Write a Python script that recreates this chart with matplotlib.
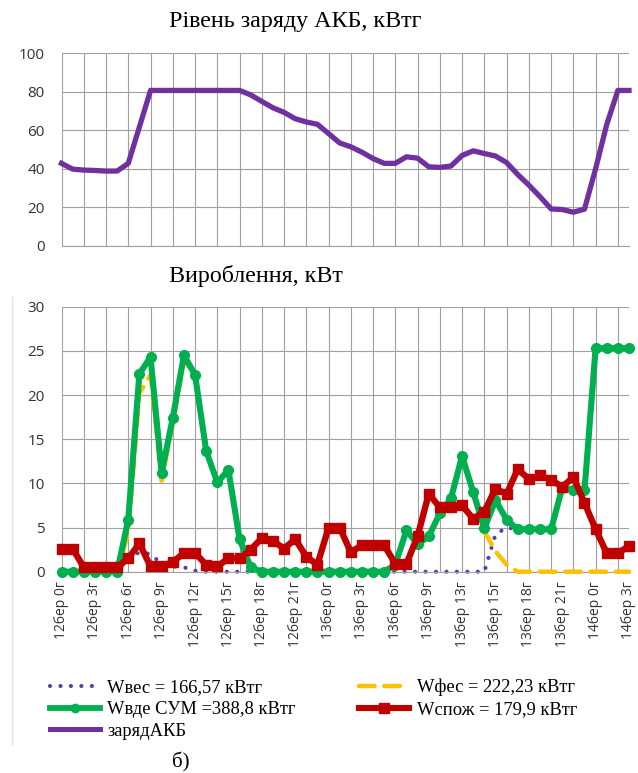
import numpy as np
import matplotlib
matplotlib.use("Agg")
import matplotlib.pyplot as plt
from matplotlib.lines import Line2D

W, H = 638, 773

# Battery state of charge, kWh, hourly from 12бер 0г to 14бер 3г
charge = [42.8, 39.8, 39.3, 39.1, 38.8, 38.8, 42.8, 61.7, 80.7, 80.7,
          80.7, 80.7, 80.7, 80.7, 80.7, 80.7, 80.7, 78.4, 75.0, 71.7,
          69.3, 66.0, 64.3, 63.1, 58.3, 53.4, 51.4, 48.6, 45.3, 42.8,
          42.8, 46.2, 45.5, 41.0, 40.7, 41.4, 46.9, 49.3, 47.9, 46.6,
          43.2, 37.0, 31.5, 25.5, 19.1, 18.8, 17.4, 19.0, 40.0, 63.0,
          80.7, 80.7]

# Generation and consumption, kW
wind = [0, 0, 0, 0, 0, 0, 1.5, 2.2, 2.0, 0.9,
        0.6, 0.5, 0.1, 0, 0, 0, 0, 0, 0, 0,
        0, 0, 0, 0, 0, 0, 0, 0, 0, 0,
        0, 0, 0, 0, 0, 0, 0, 0, 0, 4.2,
        5.0, 4.8, 4.8, 4.8, 4.8, 9.5, 9.3, 9.2, 25.3, 25.3,
        25.3, 25.3]
solar = [0, 0, 0, 0, 0, 0, 4.4, 20.2, 22.3, 10.3,
         16.8, 24.0, 22.2, 13.7, 10.1, 11.5, 3.7, 0.5, 0, 0,
         0, 0, 0, 0, 0, 0, 0, 0, 0, 0,
         0.8, 4.7, 3.1, 4.0, 6.6, 8.3, 13.1, 9.0, 4.6, 2.3,
         0.8, 0, 0, 0, 0, 0, 0, 0, 0, 0,
         0, 0]
total = [0, 0, 0, 0, 0, 0, 5.9, 22.4, 24.3, 11.2,
         17.4, 24.5, 22.3, 13.7, 10.1, 11.5, 3.7, 0.5, 0, 0,
         0, 0, 0, 0, 0, 0, 0, 0, 0, 0,
         0.8, 4.7, 3.1, 4.0, 6.6, 8.3, 13.1, 9.0, 4.9, 8.1,
         5.9, 4.8, 4.8, 4.8, 4.8, 9.5, 9.3, 9.2, 25.3, 25.3,
         25.3, 25.3]
load = [2.6, 2.6, 0.5, 0.5, 0.5, 0.5, 1.5, 3.2, 0.6, 0.6,
        1.1, 2.1, 2.1, 0.8, 0.6, 1.5, 1.5, 2.5, 3.8, 3.5,
        2.6, 3.7, 1.7, 0.8, 5.0, 5.0, 2.2, 3.0, 3.0, 3.0,
        0.9, 0.9, 4.0, 8.8, 7.3, 7.3, 7.5, 6.0, 6.8, 9.4,
        8.8, 11.6, 10.5, 10.9, 10.4, 9.6, 10.7, 7.8, 4.8, 2.1,
        2.1, 2.9]

tick_labels = ["12бер 0г", "12бер 3г", "12бер 6г", "12бер 9г", "12бер 12г",
               "12бер 15г", "12бер 18г", "12бер 21г", "13бер 0г", "13бер 3г",
               "13бер 6г", "13бер 9г", "13бер 13г", "13бер 15г", "13бер 18г",
               "13бер 21г", "14бер 0г", "14бер 3г"]
legend_labels = ["Wвес = 166,57 кВтг", "Wфес = 222,23 кВтг",
                 "Wвде СУМ =388,8 кВтг", "Wспож = 179,9 кВтг", "зарядАКБ"]

PURPLE = "#7030A0"
WIND_C = "#5B3DA8"
SOLAR_C = "#FFC000"
GREEN = "#00B050"
RED = "#C00000"
GRID = "#A0A0A0"
TEXT_C = "#333333"

plt.rcParams['font.family'] = ['Open Sans', 'DejaVu Sans']
serif = ['Liberation Serif', 'DejaVu Serif']

hours = np.arange(len(charge))

fig = plt.figure(figsize=(W / 100, H / 100), dpi=100)


def px_axes(left, top, right, bottom):
    return fig.add_axes([left / W, 1 - bottom / H, (right - left) / W, (bottom - top) / H])


def style_axes(ax, ymax, ystep):
    ax.set_xlim(0, hours[-1])
    ax.set_ylim(0, ymax)
    ax.set_yticks(np.arange(0, ymax + 0.1, ystep))
    ax.set_xticks(np.arange(0, len(hours), 2))
    ax.set_xticklabels([])
    ax.grid(True, color=GRID, lw=0.8)
    ax.set_axisbelow(True)
    for s in ["top", "right", "left"]:
        ax.spines[s].set_visible(False)
    ax.spines["bottom"].set_color(GRID)
    ax.spines["bottom"].set_linewidth(0.8)
    ax.tick_params(axis="both", which="major", length=0)
    ax.tick_params(axis="y", pad=12, labelsize=11, labelcolor=TEXT_C)


# state of charge
ax1 = px_axes(61.5, 53.3, 629, 245.7)
style_axes(ax1, 100, 20)
ax1.plot(hours, charge, color=PURPLE, lw=3.8, solid_joinstyle="round", clip_on=False)

# generation / consumption
ax2 = px_axes(61.5, 306.7, 629, 571.7)
style_axes(ax2, 30, 5)
ax2.xaxis.remove_overlapping_locs = False
ax2.set_xticks(np.arange(0, len(hours), 3), minor=True)
ax2.set_xticklabels(tick_labels, minor=True, rotation=90, fontsize=10, color=TEXT_C)
ax2.tick_params(axis="x", which="minor", length=0, pad=7)

ax2.plot(hours, wind, color=WIND_C, lw=3, linestyle=(0, (0.01, 2.5)),
         dash_capstyle="round", zorder=2, clip_on=False)
ax2.plot(hours, solar, color=SOLAR_C, lw=3.2, linestyle=(0, (3.5, 2.2)),
         dash_capstyle="round", zorder=3, clip_on=False)
ax2.plot(hours, total, color=GREEN, lw=4.4, marker="o", ms=7, mec=GREEN,
         solid_joinstyle="round", zorder=4, clip_on=False)
ax2.plot(hours, load, color=RED, lw=4.6, marker="s", ms=7.5, mec=RED,
         zorder=5, clip_on=False)

fig.text(169 / W, 1 - 22 / H, "Рівень заряду АКБ, кВтг", family=serif,
         fontsize=17.3, va="center", ha="left")
fig.text(169 / W, 1 - 276 / H, "Вироблення, кВт", family=serif,
         fontsize=17.3, va="center", ha="left")

handles = [
    Line2D([], [], color=WIND_C, lw=3, linestyle=(0, (0.01, 2.5)), dash_capstyle="round"),
    Line2D([], [], color=GREEN, lw=4.2, marker="o", ms=6),
    Line2D([], [], color=PURPLE, lw=3.6),
    Line2D([], [], color=SOLAR_C, lw=3.2, linestyle=(0, (3.5, 2.2)), dash_capstyle="round"),
    Line2D([], [], color=RED, lw=4.4, marker="s", ms=6.5),
]
labels = [legend_labels[0], legend_labels[2], legend_labels[4],
          legend_labels[1], legend_labels[3]]
fig.legend(handles, labels, ncol=2, loc="upper left",
           bbox_to_anchor=(50 / W, 1 - 679 / H), frameon=False,
           prop={"family": serif, "size": 13.3}, handlelength=2.7,
           handletextpad=0.4, columnspacing=3.45, labelspacing=0.25,
           borderpad=0, borderaxespad=0)

# chart area border on the left
fig.add_artist(Line2D([12 / W, 12 / W], [1 - 297 / H, 1 - 745 / H],
                      color="#E4E4E4", lw=1))

fig.text(181 / W, 1 - 762 / H, "б)", family=serif, fontsize=15,
         va="center", ha="center")

fig.savefig("out.png", dpi=100)
